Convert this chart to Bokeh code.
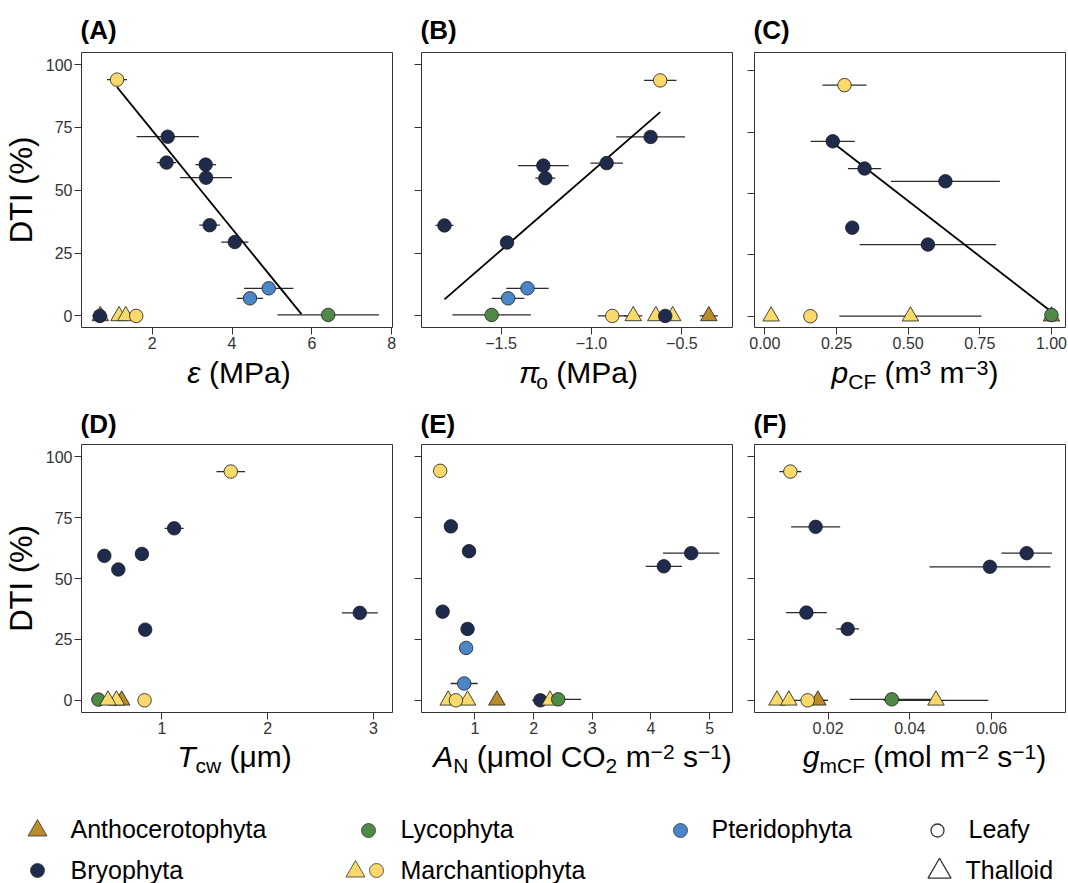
from bokeh.plotting import figure
from bokeh.models import ColumnDataSource, Range1d, FixedTicker
from bokeh.layouts import column, row
from bokeh.embed import file_html
from bokeh.resources import INLINE
from bokeh.core.properties import value

FONT = "Liberation Sans"

# ---------------- data ----------------
taxon_names = {"An": "Anthocerotophyta", "Br": "Bryophyta", "Ly": "Lycophyta",
               "Ma": "Marchantiophyta", "Pt": "Pteridophyta"}
taxon_colors = {"An": "#B98B2B", "Br": "#1F2B4D", "Ly": "#4F8A46",
                "Ma": "#F9D96B", "Pt": "#4B87C8"}
form_names = {"L": "Leafy", "T": "Thalloid"}

dti_ticks = [0, 25, 50, 75, 100]

# (A) epsilon (MPa)
a_taxon = ["An", "Br", "Ma", "Ma", "Ma", "Ly", "Pt", "Pt", "Br", "Br", "Br", "Br", "Br", "Br", "Ma"]
a_form = ["T", "L", "T", "T", "L", "L", "L", "L", "L", "L", "L", "L", "L", "L", "L"]
a_x = [0.70, 0.69, 1.17, 1.34, 1.60, 6.41, 4.45, 4.92, 4.07, 3.44, 3.35, 3.34, 2.36, 2.39, 1.12]
a_xerr = [0.15, 0.19, 0, 0, 0, 1.27, 0.33, 0.62, 0.34, 0.26, 0.65, 0.26, 0.24, 0.78, 0.25]
a_dti = [0, 0, 0, 0, 0, 0.4, 7.0, 11.0, 29.4, 36.1, 55.0, 60.2, 61.0, 71.3, 94.0]
a_fit_x = [1.12, 5.74]
a_fit_dti = [91.0, 0.7]
a_ticks = [2, 4, 6, 8]
a_tick_labels = ["2", "4", "6", "8"]

# (B) pi_o (MPa)
b_taxon = ["An", "Ma", "Ma", "Ma", "Ma", "Br", "Ly", "Pt", "Pt", "Br", "Br", "Br", "Br", "Br", "Br", "Ma"]
b_form = ["T", "L", "T", "T", "T", "L", "L", "L", "L", "L", "L", "L", "L", "L", "L", "L"]
b_x = [-0.351, -0.885, -0.769, -0.644, -0.551, -0.592, -1.552, -1.461, -1.354, -1.467, -1.813,
       -1.255, -1.266, -0.916, -0.673, -0.620]
b_xerr = [0.05, 0.08, 0.05, 0.03, 0.03, 0, 0.217, 0.09, 0.117, 0.02, 0.05, 0.055, 0.14, 0.09, 0.19, 0.09]
b_dti = [0, 0, 0, 0, 0, 0, 0.4, 7.0, 11.0, 29.2, 36.0, 54.8, 59.8, 60.8, 71.2, 93.7]
b_fit_x = [-1.813, -0.620]
b_fit_dti = [6.6, 81.1]
b_ticks = [-1.5, -1.0, -0.5]
b_tick_labels = ["\u22121.5", "\u22121.0", "\u22120.5"]

# (C) p_CF (m3 m-3)
c_taxon = ["An", "Ly", "Ma", "Ma", "Ma", "Br", "Br", "Br", "Br", "Br", "Ma"]
c_form = ["T", "L", "T", "L", "T", "L", "L", "L", "L", "L", "L"]
c_x = [1.0, 1.0, 0.022, 0.159, 0.508, 0.569, 0.305, 0.630, 0.348, 0.237, 0.278]
c_xerr = [0, 0, 0, 0, 0.248, 0.238, 0, 0.19, 0.058, 0.077, 0.077]
c_dti = [0, 0.5, 0, 0, 0, 29.2, 36.1, 55.0, 60.2, 71.3, 94.2]
c_fit_x = [0.241, 1.0]
c_fit_dti = [70.4, 1.8]
c_ticks = [0, 0.25, 0.5, 0.75, 1.0]
c_tick_labels = ["0.00", "0.25", "0.50", "0.75", "1.00"]

# (D) T_cw (um)
d_taxon = ["Ly", "An", "Ma", "Ma", "Ma", "Br", "Br", "Br", "Br", "Br", "Br", "Ma"]
d_form = ["L", "T", "T", "T", "L", "L", "L", "L", "L", "L", "L", "L"]
d_x = [0.40, 0.62, 0.57, 0.49, 0.836, 0.842, 2.871, 0.588, 0.456, 0.811, 1.116, 1.651]
d_xerr = [0, 0, 0, 0, 0, 0.03, 0.17, 0, 0, 0.03, 0.09, 0.135]
d_dti = [0.3, 0, 0, 0, 0, 29.0, 35.9, 53.7, 59.3, 60.1, 70.6, 93.9]
d_ticks = [1, 2, 3]
d_tick_labels = ["1", "2", "3"]

# (E) A_N (umol CO2 m-2 s-1)
e_taxon = ["An", "Br", "Ma", "Ly", "Ma", "Ma", "Ma", "Pt", "Pt", "Br", "Br", "Br", "Br", "Br", "Br", "Ma"]
e_form = ["T", "L", "T", "L", "T", "T", "L", "L", "L", "L", "L", "L", "L", "L", "L", "L"]
e_x = [1.375, 2.115, 2.28, 2.42, 0.545, 0.875, 0.676, 0.817, 0.85, 0.875, 0.45, 4.22, 4.686, 0.90, 0.59, 0.408]
e_xerr = [0, 0.14, 0, 0.39, 0, 0, 0, 0.23, 0, 0, 0, 0.31, 0.48, 0.06, 0, 0]
e_dti = [0, 0, 0, 0.4, 0, 0, 0, 6.9, 21.5, 29.3, 36.4, 55.0, 60.4, 61.2, 71.4, 94.2]
e_ticks = [1, 2, 3, 4, 5]
e_tick_labels = ["1", "2", "3", "4", "5"]

# (F) g_mCF (mol m-2 s-1)
f_taxon = ["An", "Ma", "Ma", "Ma", "Ly", "Ma", "Br", "Br", "Br", "Br", "Br", "Ma"]
f_form = ["T", "L", "T", "T", "L", "T", "L", "L", "L", "L", "L", "L"]
f_x = [0.0175, 0.0150, 0.0075, 0.0104, 0.0356, 0.0464, 0.0248, 0.0147, 0.0596, 0.0686, 0.01696, 0.01077]
f_xerr = [0.002, 0.005, 0, 0, 0.0103, 0.0128, 0.0028, 0.005, 0.0148, 0.0062, 0.006, 0.0027]
f_dti = [0, 0, 0, 0, 0.4, 0, 29.3, 36.0, 54.8, 60.4, 71.2, 93.9]
f_ticks = [0.02, 0.04, 0.06]
f_tick_labels = ["0.02", "0.04", "0.06"]

# ---------------- text helpers ----------------
CW = {" ": 278, "(": 333, ")": 333, "M": 833, "P": 667, "a": 556, "m": 833, "o": 556,
      "l": 222, "C": 722, "O": 778, "N": 722, "F": 611, "c": 500, "w": 722, "T": 611,
      "A": 667, "g": 556, "p": 556, "s": 500, "1": 556, "2": 556, "3": 556,
      "\u2212": 584, "\u03bc": 576, "\u03b5": 450, "\u03c0": 575}


def text_w(s, fs):
    return sum(CW.get(ch, 556) for ch in s) / 1000.0 * fs


SUB = (0.70, -0.20)
SUP = (0.70, 0.26)
N = (1.0, 0.0)

xlab = {
    "A": [("\u03b5", "italic", N), (" (MPa)", "normal", N)],
    "B": [("\u03c0", "italic", N), ("o", "normal", SUB), (" (MPa)", "normal", N)],
    "C": [("p", "italic", N), ("CF", "normal", SUB), (" (m", "normal", N), ("3", "normal", SUP),
          (" m", "normal", N), ("\u22123", "normal", SUP), (")", "normal", N)],
    "D": [("T", "italic", N), ("cw", "normal", SUB), (" (\u03bcm)", "normal", N)],
    "E": [("A", "italic", N), ("N", "normal", SUB), (" (\u03bcmol CO", "normal", N), ("2", "normal", SUB),
          (" m", "normal", N), ("\u22122", "normal", SUP), (" s", "normal", N), ("\u22121", "normal", SUP),
          (")", "normal", N)],
    "F": [("g", "italic", N), ("mCF", "normal", SUB), (" (mol m", "normal", N), ("\u22122", "normal", SUP),
          (" s", "normal", N), ("\u22121", "normal", SUP), (")", "normal", N)],
}

LABEL_FS = 30
TICK_FS = "16px"
DARK = "#333333"
MID = 0.3465  # distance baseline -> box middle, in em


def make_panel(key, x, xerr, dti, taxon, form, xr, yr, ticks, tick_labels, width, height,
               bl, br, bt, bb, show_y, lab_h, label_cx, label_base, tag_standoff, fit=None):
    p = figure(width=width, height=height, output_backend="svg", toolbar_location=None,
               x_range=Range1d(*xr), y_range=Range1d(*yr),
               min_border_left=bl, min_border_right=br, min_border_top=bt, min_border_bottom=bb)
    p.grid.visible = False
    p.background_fill_color = "white"
    p.border_fill_color = "white"
    p.outline_line_color = DARK
    p.outline_line_width = 1

    p.title.text = "(%s)" % key
    p.title.text_font = FONT
    p.title.text_font_size = "26px"
    p.title.text_font_style = "bold"
    p.title.text_color = "black"
    p.title.align = "left"
    p.title.offset = -1
    p.title.standoff = tag_standoff

    for ax in (p.xaxis[0], p.yaxis[0]):
        ax.axis_line_color = None
        ax.major_tick_out = 7
        ax.major_tick_in = 0
        ax.minor_tick_line_color = None
        ax.major_tick_line_color = DARK
        ax.major_tick_line_width = 1
        ax.major_label_text_font = FONT
        ax.major_label_text_font_size = TICK_FS
        ax.major_label_text_color = DARK
        ax.major_label_standoff = 2

    p.xaxis.ticker = FixedTicker(ticks=ticks)
    p.xaxis.major_label_overrides = {t: l for t, l in zip(ticks, tick_labels)}
    p.yaxis.ticker = FixedTicker(ticks=dti_ticks)
    if show_y:
        p.yaxis.axis_label = "DTI (%)"
        p.yaxis.axis_label_text_font = FONT
        p.yaxis.axis_label_text_font_size = "31px"
        p.yaxis.axis_label_text_font_style = "normal"
        p.yaxis.axis_label_text_color = "black"
        p.yaxis.axis_label_standoff = 4
    else:
        p.yaxis.major_label_text_font_size = "0px"
        p.yaxis.major_label_text_color = None
        p.yaxis.major_label_standoff = 0

    # horizontal error bars
    ex0 = [xi - ei for xi, ei in zip(x, xerr) if ei > 0]
    ex1 = [xi + ei for xi, ei in zip(x, xerr) if ei > 0]
    ey = [yi for yi, ei in zip(dti, xerr) if ei > 0]
    p.segment(x0=ex0, y0=ey, x1=ex1, y1=ey, line_color="#2b2b2b", line_width=1.3)

    if fit is not None:
        p.line(fit[0], fit[1], line_color="black", line_width=1.8)

    src = ColumnDataSource(dict(
        x=x, y=dti,
        color=[taxon_colors[t] for t in taxon],
        marker=["circle" if f == "L" else "triangle" for f in form],
        size=[13.5 if f == "L" else 16.5 for f in form],
        taxon=[taxon_names[t] for t in taxon],
        form=[form_names[f] for f in form],
    ))
    p.scatter("x", "y", source=src, marker="marker", size="size", fill_color="color",
              line_color="#1a1a1a", line_width=0.8)

    # x axis title strip (styled pieces: italic symbol, sub/superscripts).
    # Its frame is aligned with the panel frame, so use canvas-pixel ranges.
    lf = figure(width=width, height=lab_h, output_backend="svg", toolbar_location=None,
                x_range=Range1d(bl, width - br), y_range=Range1d(lab_h, 0),
                x_axis_location=None, y_axis_location=None,
                min_border=0, min_border_left=bl, min_border_right=br,
                min_border_top=0, min_border_bottom=0)
    lf.grid.visible = False
    lf.outline_line_color = None
    segs = xlab[key]
    total = sum(text_w(s, LABEL_FS * sc[0]) for s, _, sc in segs)
    cx = label_cx - total / 2.0
    for s, style, (sc, dy) in segs:
        fs = LABEL_FS * sc
        lead = len(s) - len(s.lstrip(" "))
        cx += text_w(" " * lead, fs)
        s2 = s.lstrip(" ")
        yc = label_base - dy * LABEL_FS - MID * fs
        lf.text(x=[cx], y=[yc], text=[s2], text_font=value(FONT), text_font_size=value("%.1fpx" % fs),
                text_font_style=value(style), text_color=value("black"),
                text_baseline=value("middle"), text_align=value("left"))
        cx += text_w(s2, fs)
    return column(p, lf, spacing=0)


pa = make_panel("A", a_x, a_xerr, a_dti, a_taxon, a_form, (0.23, 8.02), (-4.6, 104.8), a_ticks, a_tick_labels,
                400, 355, 81, 8, 52, 28, True, 45, 238.5, 27.5, 15, fit=(a_fit_x, a_fit_dti))
pb = make_panel("B", b_x, b_xerr, b_dti, b_taxon, b_form, (-1.94, -0.22), (-4.6, 104.8), b_ticks, b_tick_labels,
                340, 355, 21, 8, 52, 28, False, 45, 178.0, 27.5, 15, fit=(b_fit_x, b_fit_dti))
pc = make_panel("C", c_x, c_xerr, c_dti, c_taxon, c_form, (-0.036, 1.049), (-4.6, 107.5), c_ticks, c_tick_labels,
                328, 355, 14, 3, 52, 28, False, 45, 174.5, 27.5, 15, fit=(c_fit_x, c_fit_dti))
pd = make_panel("D", d_x, d_xerr, d_dti, d_taxon, d_form, (0.24, 3.18), (-5, 105), d_ticks, d_tick_labels,
                400, 340, 81, 8, 43, 28, True, 60, 234.0, 26.5, 12)
pe = make_panel("E", e_x, e_xerr, e_dti, e_taxon, e_form, (0.09, 5.39), (-5, 105), e_ticks, e_tick_labels,
                340, 340, 21, 8, 43, 28, False, 60, 182.0, 26.5, 12)
pf = make_panel("F", f_x, f_xerr, f_dti, f_taxon, f_form, (0.002, 0.0781), (-5, 105), f_ticks, f_tick_labels,
                328, 340, 14, 3, 43, 28, False, 60, 184.0, 26.5, 12)

# ---------------- legend strip ----------------
leg = figure(width=1068, height=83, output_backend="svg", toolbar_location=None,
             x_range=Range1d(0, 1068), y_range=Range1d(83, 0),
             x_axis_location=None, y_axis_location=None,
             min_border=0, min_border_left=0, min_border_right=0, min_border_top=0, min_border_bottom=0)
leg.grid.visible = False
leg.outline_line_color = None

leg_key_x = [37, 37, 368, 355, 376, 680]
leg_key_y = [30, 70, 30, 71, 70, 30]
leg_key_marker = ["triangle", "circle", "circle", "triangle", "circle", "circle"]
leg_key_color = [taxon_colors[t] for t in ["An", "Br", "Ly", "Ma", "Ma", "Pt"]]
leg_key_size = [19, 14, 14, 19, 14, 14]
leg.scatter(x=leg_key_x, y=leg_key_y, marker=leg_key_marker, size=leg_key_size,
            fill_color=leg_key_color, line_color="#333333", line_width=0.8)

shape_key_x = [937, 939]
shape_key_y = [30, 71]
shape_key_marker = ["circle", "triangle"]
shape_key_size = [13, 23]
leg.scatter(x=shape_key_x, y=shape_key_y, marker=shape_key_marker, size=shape_key_size,
            fill_color=None, line_color="#333333", line_width=1.3)

leg_text = [taxon_names[t] for t in ["An", "Br", "Ly", "Ma", "Pt"]] + [form_names["L"], form_names["T"]]
leg_text_x = [70, 70, 400, 400, 711, 968, 965]
leg_text_y = [28.5, 69, 28.5, 69, 28.5, 28.5, 69]
leg.text(x=leg_text_x, y=leg_text_y, text=leg_text, text_font=value(FONT), text_font_size=value("25px"),
         text_color="black", text_baseline="middle", text_align="left")

layout = column(row(pa, pb, pc, spacing=0), row(pd, pe, pf, spacing=0), leg, spacing=0)

open("out.html", "w").write(file_html(layout, INLINE))
